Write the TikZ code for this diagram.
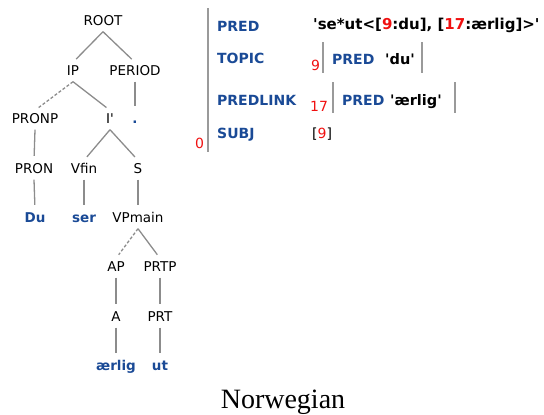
\documentclass[tikz,border=0pt]{standalone}
\usepackage{fontspec}
\setmainfont{DejaVu Sans}
\newfontfamily\capfont{Liberation Serif}
\usetikzlibrary{positioning}
\definecolor{lfgBlue}{HTML}{1A4A96}
\definecolor{lfgRed}{HTML}{F01010}
\definecolor{lfgGrey}{HTML}{8C8C8C}
\definecolor{barGrey}{HTML}{9A9A9A}
\newcommand{\sq}{\textquotesingle}
\newcommand{\rd}[1]{\textcolor{lfgRed}{#1}}
\tikzset{
  % tree categories and words share one text box, so branches line up
  cat/.style     = {font=\fontsize{13.5}{16}\selectfont, text height=10pt,
                    text depth=3pt, inner xsep=2pt, inner ysep=3pt},
  word/.style    = {cat, font=\fontsize{13.5}{16}\selectfont\bfseries, lfgBlue},
  branch/.style  = {lfgGrey, line width=1.3pt, shorten >=4.5pt},
  dbranch/.style = {branch, dash pattern=on 3pt off 2pt},
  % f-structure
  attr/.style    = {anchor=base west, inner sep=0pt,
                    font=\fontsize{14}{16}\selectfont\bfseries, lfgBlue},
  sval/.style    = {anchor=base west, inner sep=0pt,
                    font=\fontsize{14.5}{16}\selectfont\bfseries},
  idx/.style     = {anchor=base west, inner sep=0pt,
                    font=\fontsize{14}{16}\selectfont, lfgRed},
  avmbar/.style  = {barGrey, line width=2.4pt},
}

\begin{document}
\begin{tikzpicture}[x=1pt, y=-1pt]
  \useasboundingbox (0,0) rectangle (544,415);
  % c-structure
  \node[cat]  (root)   at (103,22)  {ROOT};
  \node[cat]  (ip)     at (73,72)   {IP};
  \node[cat]  (period) at (135,72)  {PERIOD};
  \node[cat]  (pronp)  at (35,120)  {PRONP};
  \node[cat]  (ibar)   at (110,120) {I\sq};
  \node[word] (dot)    at (135,120) {.};
  \node[cat]  (pron)   at (34,170)  {PRON};
  \node[cat]  (vfin)   at (84,170)  {Vfin};
  \node[cat]  (s)      at (138,170) {S};
  \node[word] (du)     at (35,219)  {Du};
  \node[word] (ser)    at (84,219)  {ser};
  \node[cat]  (vpmain) at (138,219) {VPmain};
  \node[cat]  (ap)     at (116,268) {AP};
  \node[cat]  (prtp)   at (160,268) {PRTP};
  \node[cat]  (a)      at (116,318) {A};
  \node[cat]  (prt)    at (160,318) {PRT};
  \node[word] (aerlig) at (116,367) {ærlig};
  \node[word] (ut)     at (160,367) {ut};
  \draw[branch]  (root.south)   -- (ip.north);
  \draw[branch]  (root.south)   -- (period.north);
  \draw[dbranch] (ip.south)     -- (pronp.north);
  \draw[branch]  (ip.south)     -- (ibar.north);
  \draw[branch]  (period.south) -- (dot.north);
  \draw[branch]  (pronp.south)  -- (pron.north);
  \draw[branch]  (ibar.south)   -- (vfin.north);
  \draw[branch]  (ibar.south)   -- (s.north);
  \draw[branch]  (pron.south)   -- (du.north);
  \draw[branch]  (vfin.south)   -- (ser.north);
  \draw[branch]  (s.south)      -- (vpmain.north);
  \draw[dbranch] (vpmain.south) -- (ap.north);
  \draw[branch]  (vpmain.south) -- (prtp.north);
  \draw[branch]  (ap.south)     -- (a.north);
  \draw[branch]  (prtp.south)   -- (prt.north);
  \draw[branch]  (a.south)      -- (aerlig.north);
  \draw[branch]  (prt.south)    -- (ut.north);
  % f-structure, outer
  \draw[avmbar] (208,8) -- (208,152);
  \node[idx] (f0) at (195,148) {0};
  \node[attr] (pred)     at (217,31)  {PRED};
  \node[sval, font=\fontsize{15}{16}\selectfont\bfseries] (predval) at (313,30)
    {\sq se*ut<[\rd{9}:du], [\rd{17}:ærlig]>\sq};
  \node[attr] (topic)    at (217,63)  {TOPIC};
  \node[attr] (predlink) at (217,105) {PREDLINK};
  \node[attr] (subj)     at (217,138) {SUBJ};
  % topic value
  \node[idx] (f9) at (311,70) {9};
  \draw[avmbar] (323,42) -- (323,73);
  \node[attr] (tpred) at (332,64) {PRED};
  \node[sval] (tval)  at (385,64) {\sq du\sq};
  \draw[avmbar] (422,42) -- (422,73);
  % predlink value
  \node[idx] (f17) at (310,111) {17};
  \draw[avmbar] (333,82) -- (333,113);
  \node[attr] (lpred) at (342,105) {PRED};
  \node[sval] (lval)  at (390,105) {\sq ærlig\sq};
  \draw[avmbar] (455,82) -- (455,113);
  % subject
  \node[idx, black] (sval) at (312,138) {[\rd{9}]};
  % caption
  \node[anchor=base, inner sep=0pt, font=\capfont\fontsize{28}{32}\selectfont]
    (caption) at (283,408) {Norwegian};
\end{tikzpicture}
\end{document}
